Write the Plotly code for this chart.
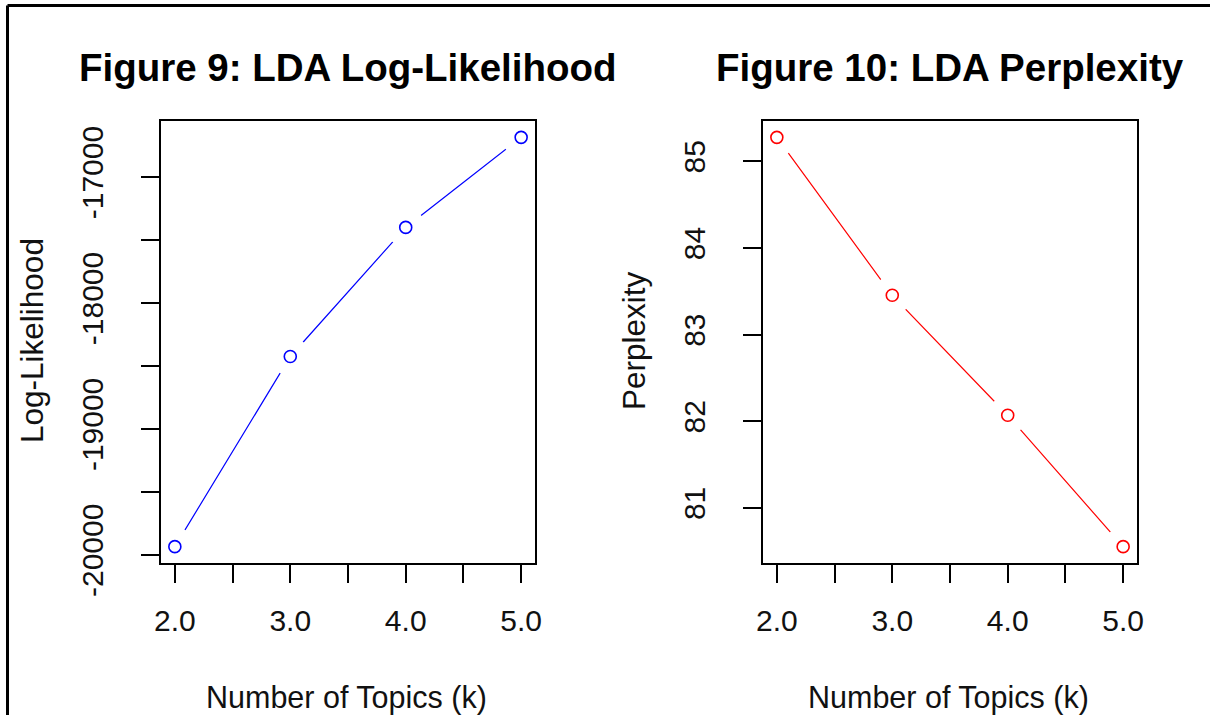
import plotly.graph_objects as go

# Data
topics = [2, 3, 4, 5]
log_likelihood = [-19935, -18425, -17400, -16685]
perplexity = [85.277, 83.454, 82.07, 80.553]

x_tickvals = [2.0, 2.5, 3.0, 3.5, 4.0, 4.5, 5.0]
x_ticktext = ["2.0", "", "3.0", "", "4.0", "", "5.0"]
ll_tickvals = [-20000, -19500, -19000, -18500, -18000, -17500, -17000]
ll_ticktext = ["-20000", "", "-19000", "", "-18000", "", "-17000"]
pp_tickvals = [81, 82, 83, 84, 85]
pp_ticktext = ["81", "82", "83", "84", "85"]

titles = ["Figure 9: LDA Log-Likelihood", "Figure 10: LDA Perplexity"]
x_title = "Number of Topics (k)"
y_titles = ["Log-Likelihood", "Perplexity"]

W, H = 1210, 715
FONT = "Liberation Sans, Arial, sans-serif"


def px(x):
    return x / W


def py(y):
    return 1 - y / H


def rng(vals, frac=0.04):
    lo, hi = min(vals), max(vals)
    d = (hi - lo) * frac
    return [lo - d, hi + d]


fig = go.Figure()

series = [
    (log_likelihood, "x", "y", "#0000FF"),
    (perplexity, "x2", "y2", "#FF0000"),
]
for vals, xa, ya, col in series:
    fig.add_trace(go.Scatter(x=topics, y=vals, xaxis=xa, yaxis=ya, mode="lines",
                             line=dict(color=col, width=1.2), hoverinfo="skip",
                             showlegend=False))
    fig.add_trace(go.Scatter(x=topics, y=vals, xaxis=xa, yaxis=ya, mode="markers",
                             marker=dict(symbol="circle", size=39, color="white",
                                         line=dict(width=0)),
                             hoverinfo="skip", showlegend=False, cliponaxis=False))
    fig.add_trace(go.Scatter(x=topics, y=vals, xaxis=xa, yaxis=ya, mode="markers",
                             marker=dict(symbol="circle-open", size=12, color=col,
                                         line=dict(width=1.6, color=col)),
                             showlegend=False, cliponaxis=False))

axis_common = dict(showline=True, mirror=True, linecolor="black", linewidth=1.5,
                   ticks="outside", ticklen=18, tickwidth=1.5, tickcolor="black",
                   showgrid=False, zeroline=False, automargin=False,
                   tickfont=dict(family=FONT, size=30, color="#111111"))

x_rng = rng(topics)
fig.update_layout(
    template="none",
    width=W, height=H,
    margin=dict(l=0, r=0, t=0, b=0, pad=0, autoexpand=False),
    paper_bgcolor="white", plot_bgcolor="white",
    xaxis=dict(domain=[px(161), px(535)], range=x_rng, tickvals=x_tickvals,
               ticktext=x_ticktext, anchor="y", ticklabelstandoff=12, **axis_common),
    xaxis2=dict(domain=[px(763), px(1137)], range=x_rng, tickvals=x_tickvals,
                ticktext=x_ticktext, anchor="y2", ticklabelstandoff=12, **axis_common),
    yaxis=dict(domain=[py(563), py(121)], range=rng(log_likelihood), tickvals=ll_tickvals,
               ticktext=ll_ticktext, anchor="x", tickangle=-90, ticklabelstandoff=26,
               **axis_common),
    yaxis2=dict(domain=[py(563), py(121)], range=rng(perplexity), tickvals=pp_tickvals,
                ticktext=pp_ticktext, anchor="x2", tickangle=-90, ticklabelstandoff=26,
                **axis_common),
)

# Titles and axis titles
for i, (cx, ycx) in enumerate([(348, 32), (950, 634)]):
    fig.add_annotation(text="<b>%s</b>" % titles[i], x=px(cx), y=py(68), xref="paper",
                       yref="paper", showarrow=False, xanchor="center", yanchor="middle",
                       font=dict(family=FONT, size=38.5, color="black"))
    fig.add_annotation(text=x_title, x=px(cx - 2), y=py(697), xref="paper", yref="paper",
                       showarrow=False, xanchor="center", yanchor="middle",
                       font=dict(family=FONT, size=30.5, color="#111111"))
    fig.add_annotation(text=y_titles[i], x=px(ycx), y=py(341), xref="paper", yref="paper",
                       showarrow=False, xanchor="center", yanchor="middle", textangle=-90,
                       font=dict(family=FONT, size=31.5, color="#111111"))

# Outer frame (top and left edges of the screenshot border)
fig.add_shape(type="line", xref="paper", yref="paper", x0=px(7.5), x1=px(7.5),
              y0=0, y1=py(5.5), line=dict(color="black", width=3))
fig.add_shape(type="line", xref="paper", yref="paper", x0=px(7.5), x1=1,
              y0=py(5.5), y1=py(5.5), line=dict(color="black", width=3))

fig.write_html("out.html")
